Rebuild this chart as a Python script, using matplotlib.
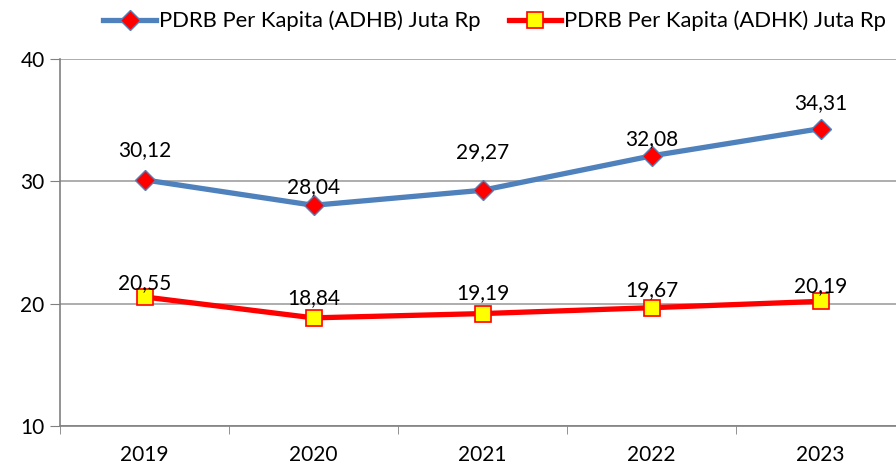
import matplotlib.pyplot as plt
import numpy as np

years = ['2019', '2020', '2021', '2022', '2023']
adhb = [30.12, 28.04, 29.27, 32.08, 34.31]
adhk = [20.55, 18.84, 19.19, 19.67, 20.19]
adhb_name = 'PDRB Per Kapita (ADHB) Juta Rp'
adhk_name = 'PDRB Per Kapita (ADHK) Juta Rp'

plt.rcParams['font.family'] = ['Lato', 'DejaVu Sans']

fig = plt.figure(figsize=(8.96, 4.69), dpi=100)
ax = fig.add_axes([60 / 896, 43 / 469, 845 / 896, 367 / 469])
x = np.arange(len(years))

l1, = ax.plot(x, adhb, color='#4F81BD', lw=3.8, marker='D', ms=10,
              mfc='#FF0000', mec='#4F81BD', mew=1, zorder=3)
l2, = ax.plot(x, adhk, color='#FF0000', lw=3.8, marker='s', ms=12,
              mfc='#FFFF00', mec='#FF0000', mew=1.2, zorder=3)

# label baseline offsets in points (placement as in the original)
off1 = [17, 9, 23.4, 7.6, 14]
off2 = [5.4, 9.7, 10.4, 8.3, 6.8]
for xi, v, o in zip(x, adhb, off1):
    ax.annotate(f'{v:.2f}'.replace('.', ','), (xi, v), xytext=(0, o),
                textcoords='offset points', ha='center', va='baseline', fontsize=15)
for xi, v, o in zip(x, adhk, off2):
    ax.annotate(f'{v:.2f}'.replace('.', ','), (xi, v), xytext=(0, o),
                textcoords='offset points', ha='center', va='baseline', fontsize=15)

ax.set_xlim(-0.5, 4.5)
ax.set_ylim(10, 40)
ax.set_yticks([10, 20, 30, 40])
ax.set_xticks(x)
ax.set_xticklabels(years)
ax.set_xticks(np.arange(-0.5, 5, 1), minor=True)
ax.tick_params(axis='x', which='major', length=0, labelsize=15, pad=14)
ax.tick_params(axis='x', which='minor', length=6, color='#808080')
ax.tick_params(axis='y', length=7, color='#808080', labelsize=15, pad=4)
ax.yaxis.grid(True, color='#A0A0A0', lw=1.2)
ax.set_axisbelow(True)
for s in ['top', 'right']:
    ax.spines[s].set_visible(False)
for s in ['left', 'bottom']:
    ax.spines[s].set_color('#808080')
    ax.spines[s].set_linewidth(1.2)

fig.legend([l1, l2], [adhb_name, adhk_name], loc='center', ncol=2,
           bbox_to_anchor=(0.552, 0.955), frameon=False, fontsize=15.8,
           handlelength=2.4, handletextpad=0.12, columnspacing=1.3)

fig.savefig('out.png', dpi=100)
